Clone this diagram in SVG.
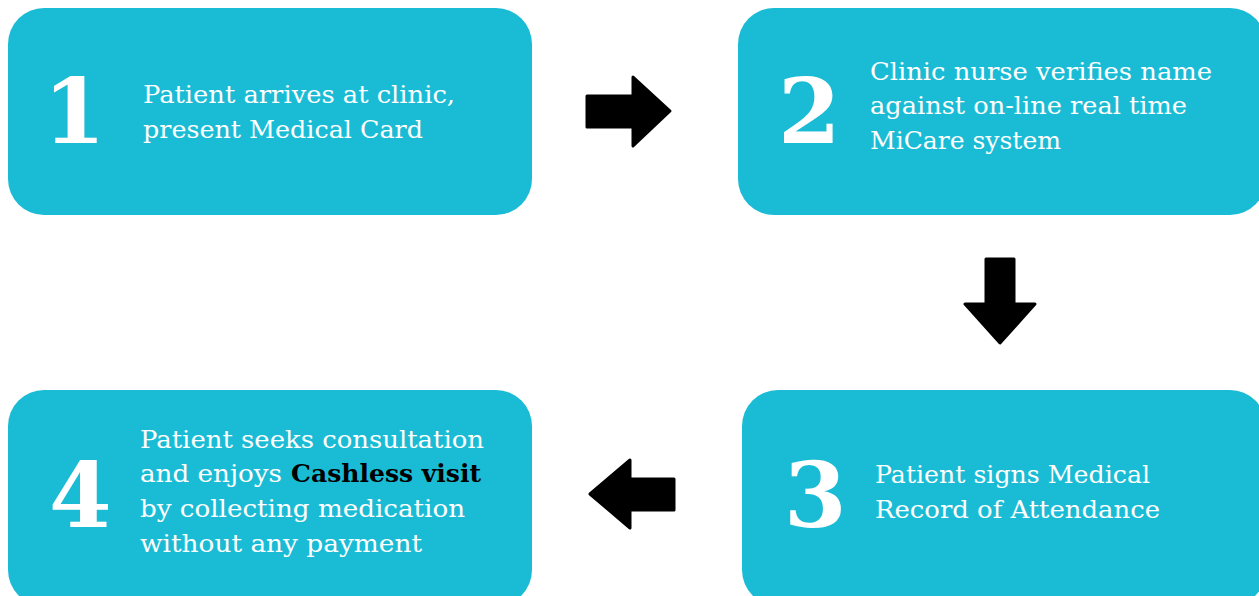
<svg xmlns="http://www.w3.org/2000/svg" width="1259" height="596" viewBox="0 0 1259 596">
  <style>
    .box { fill: #1ABCD5; }
    .num { font-family: "DejaVu Serif", "Liberation Serif", serif; font-weight: bold; font-size: 90px; fill: #ffffff; }
    .txt { font-family: "DejaVu Serif", "Liberation Serif", serif; font-size: 24px; fill: #ffffff; }
    .em { font-family: "DejaVu Serif", "Liberation Serif", serif; font-size: 24px; font-weight: bold; fill: #000000; }
    .arrow { fill: #000000; stroke: #000000; stroke-width: 3; stroke-linejoin: round; }
  </style>
  <rect width="1259" height="596" fill="#ffffff"/>

  <g id="step1">
    <rect class="box" x="8" y="8" width="524" height="207" rx="36"/>
    <text class="num" x="43" y="143">1</text>
    <text class="txt" x="143" y="103" textLength="312" lengthAdjust="spacingAndGlyphs">Patient arrives at clinic,</text>
    <text class="txt" x="143" y="138" textLength="280" lengthAdjust="spacingAndGlyphs">present Medical Card</text>
  </g>

  <g id="step2">
    <rect class="box" x="738" y="8" width="528" height="207" rx="36"/>
    <text class="num" x="778" y="143">2</text>
    <text class="txt" x="870" y="80" textLength="342" lengthAdjust="spacingAndGlyphs">Clinic nurse verifies name</text>
    <text class="txt" x="870" y="114" textLength="317" lengthAdjust="spacingAndGlyphs">against on-line real time</text>
    <text class="txt" x="870" y="149" textLength="191" lengthAdjust="spacingAndGlyphs">MiCare system</text>
  </g>

  <g id="step3">
    <rect class="box" x="742" y="390" width="524" height="216" rx="36"/>
    <text class="num" x="784" y="527">3</text>
    <text class="txt" x="875" y="483" textLength="275" lengthAdjust="spacingAndGlyphs">Patient signs Medical</text>
    <text class="txt" x="875" y="518" textLength="285" lengthAdjust="spacingAndGlyphs">Record of Attendance</text>
  </g>

  <g id="step4">
    <rect class="box" x="8" y="390" width="524" height="216" rx="36"/>
    <text class="num" x="49" y="527">4</text>
    <text class="txt" x="140" y="448" textLength="344" lengthAdjust="spacingAndGlyphs">Patient seeks consultation</text>
    <text class="txt" x="140" y="482" textLength="142" lengthAdjust="spacingAndGlyphs">and enjoys</text>
    <text class="em" x="291" y="482" textLength="190" lengthAdjust="spacingAndGlyphs">Cashless visit</text>
    <text class="txt" x="140" y="517" textLength="325" lengthAdjust="spacingAndGlyphs">by collecting medication</text>
    <text class="txt" x="140" y="552" textLength="282" lengthAdjust="spacingAndGlyphs">without any payment</text>
  </g>

  <g id="connectors">
    <!-- step 1 to step 2 -->
    <polygon class="arrow" points="587,96 633,96 633,77 670,111 633,146 633,127 587,127"/>
    <!-- step 2 to step 3 -->
    <polygon class="arrow" points="986,259 1014,259 1014,304 1035,304 1000,343 965,304 986,304"/>
    <!-- step 3 to step 4 -->
    <polygon class="arrow" points="674,479 630,479 630,460 590,494 630,528 630,510 674,510"/>
  </g>
</svg>
